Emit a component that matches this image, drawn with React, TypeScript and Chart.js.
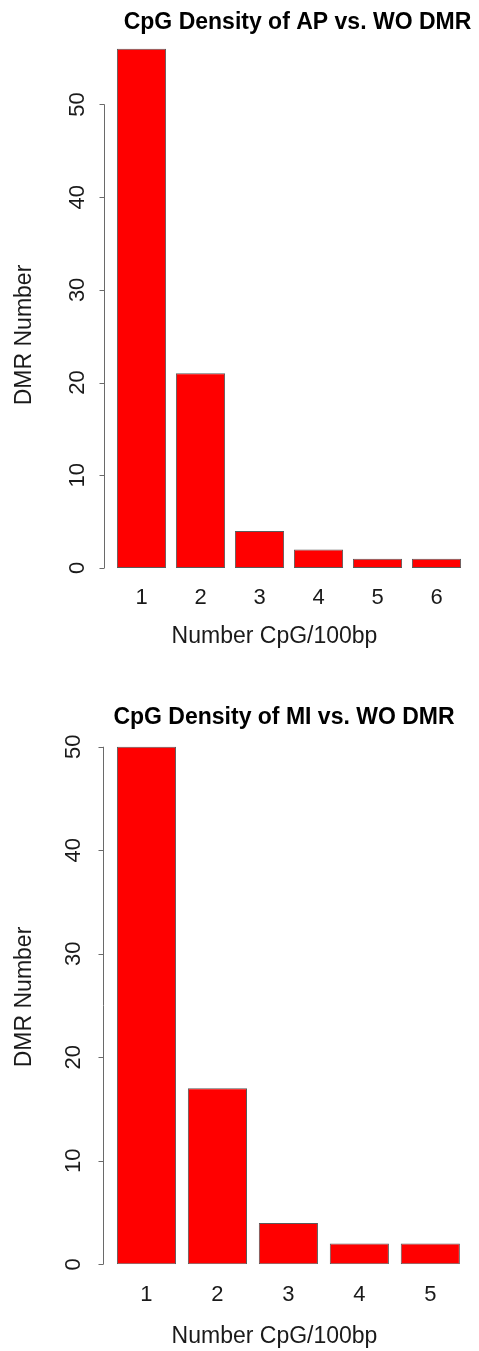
import React, { useEffect, useRef } from "react";
import { Chart, registerables } from "chart.js";

Chart.register(...registerables);

const categoriesAP = ["1", "2", "3", "4", "5", "6"];
const valuesAP = [56, 21, 4, 2, 1, 1];
const titleAP = "CpG Density of AP vs. WO DMR";

const categoriesMI = ["1", "2", "3", "4", "5"];
const valuesMI = [50, 17, 4, 2, 2];
const titleMI = "CpG Density of MI vs. WO DMR";

const yTicks = [0, 10, 20, 30, 40, 50];
const xAxisTitle = "Number CpG/100bp";
const yAxisTitle = "DMR Number";

const FONT = "'Liberation Sans', Arial, sans-serif";

type Layout = {
  top: number;
  height: number;
  yMax: number;
  padding: { left: number; right: number; top: number; bottom: number };
  axisX: number;
  tickLabelX: number;
  yTitleX: number;
  yTitleY: number;
  xLabelY: number;
  xTitleX: number;
  xTitleY: number;
  titleX: number;
  titleBaseline: number;
};

const layoutAP: Layout = {
  top: 0,
  height: 680,
  yMax: 58,
  padding: { left: 112, right: 13, top: 30.3, bottom: 112 },
  axisX: 104,
  tickLabelX: 78,
  yTitleX: 25,
  yTitleY: 335,
  xLabelY: 598,
  xTitleX: 274.5,
  xTitleY: 637,
  titleX: 297.5,
  titleBaseline: 28.5,
};

const layoutMI: Layout = {
  top: 680,
  height: 671,
  yMax: 55,
  padding: { left: 111, right: 13.2, top: 15, bottom: 86.7 },
  axisX: 103,
  tickLabelX: 73.5,
  yTitleX: 25,
  yTitleY: 317,
  xLabelY: 615,
  xTitleX: 274.5,
  xTitleY: 657,
  titleX: 284,
  titleBaseline: 44,
};

function BarPanel(props: { categories: string[]; values: number[]; title: string; layout: Layout }) {
  const ref = useRef<HTMLCanvasElement | null>(null);
  const { categories, values, title, layout } = props;

  useEffect(() => {
    if (!ref.current) return;
    const decor = {
      id: "rDecor",
      afterDraw(chart: any) {
        const ctx = chart.ctx as CanvasRenderingContext2D;
        const ys = chart.scales.y;
        const xs = chart.scales.x;
        ctx.save();
        // y axis line and ticks
        ctx.strokeStyle = "#6a6a6a";
        ctx.lineWidth = 1;
        ctx.beginPath();
        const ax = Math.round(layout.axisX) + 0.5;
        ctx.moveTo(ax, ys.getPixelForValue(yTicks[0]));
        ctx.lineTo(ax, ys.getPixelForValue(yTicks[yTicks.length - 1]));
        for (const t of yTicks) {
          const py = Math.round(ys.getPixelForValue(t)) + 0.5;
          ctx.moveTo(ax, py);
          ctx.lineTo(ax - 5, py);
        }
        ctx.stroke();
        // y tick labels (rotated)
        ctx.fillStyle = "#1a1a1a";
        ctx.font = `22px ${FONT}`;
        ctx.textAlign = "center";
        ctx.textBaseline = "middle";
        for (const t of yTicks) {
          const py = ys.getPixelForValue(t);
          ctx.save();
          ctx.translate(layout.tickLabelX, py);
          ctx.rotate(-Math.PI / 2);
          ctx.fillText(String(t), 0, 0);
          ctx.restore();
        }
        // y axis title
        ctx.font = `23px ${FONT}`;
        ctx.save();
        ctx.translate(layout.yTitleX, layout.yTitleY);
        ctx.rotate(-Math.PI / 2);
        ctx.fillText(yAxisTitle, 0, 0);
        ctx.restore();
        // x tick labels
        ctx.font = `22px ${FONT}`;
        categories.forEach((c, i) => {
          ctx.fillText(c, xs.getPixelForValue(i), layout.xLabelY);
        });
        // x axis title
        ctx.font = `23px ${FONT}`;
        ctx.fillText(xAxisTitle, layout.xTitleX, layout.xTitleY);
        // main title
        ctx.fillStyle = "#000";
        ctx.font = `bold 23px ${FONT}`;
        ctx.textBaseline = "alphabetic";
        ctx.fillText(title, layout.titleX, layout.titleBaseline);
        ctx.restore();
      },
    };

    const chart = new Chart(ref.current, {
      type: "bar",
      data: {
        labels: categories,
        datasets: [
          {
            data: values,
            backgroundColor: "#ff0000",
            borderColor: "#5a5a5a",
            borderWidth: 1,
            borderSkipped: false,
            barPercentage: 1 / 1.2,
            categoryPercentage: 1,
          },
        ],
      },
      options: {
        responsive: false,
        animation: false,
        devicePixelRatio: 1,
        layout: { padding: layout.padding },
        plugins: { legend: { display: false }, title: { display: false }, tooltip: { enabled: false } },
        scales: {
          x: { type: "category", display: false, offset: true, grid: { display: false } },
          y: { type: "linear", display: false, min: 0, max: layout.yMax, grid: { display: false } },
        },
      },
      plugins: [decor],
    });
    return () => chart.destroy();
  }, []);

  return (
    <canvas
      ref={ref}
      width={479}
      height={layout.height}
      style={{ position: "absolute", left: 0, top: layout.top, width: 479, height: layout.height, display: "block" }}
    />
  );
}

export default function App() {
  return (
    <div style={{ position: "absolute", left: 0, top: 0, width: 479, height: 1351, background: "#fff" }}>
      <BarPanel categories={categoriesAP} values={valuesAP} title={titleAP} layout={layoutAP} />
      <BarPanel categories={categoriesMI} values={valuesMI} title={titleMI} layout={layoutMI} />
    </div>
  );
}
